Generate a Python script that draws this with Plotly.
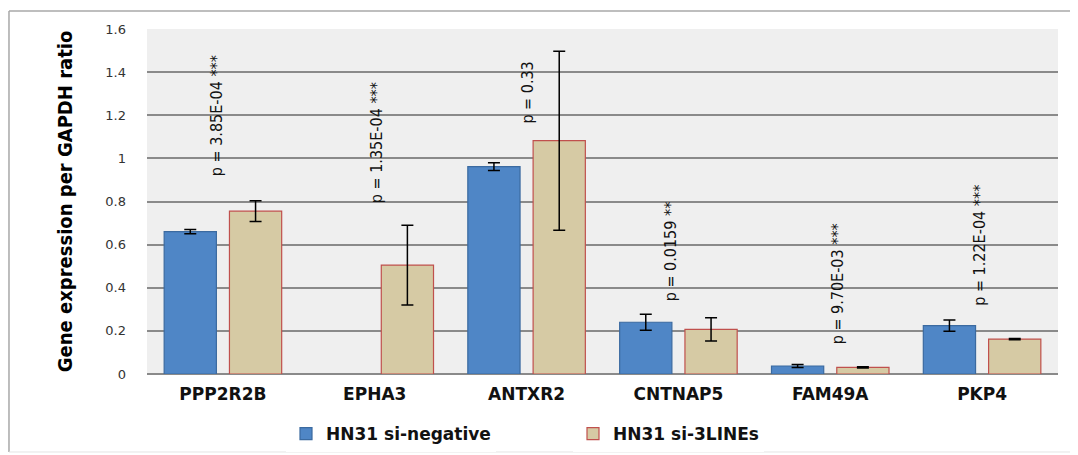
import plotly.graph_objects as go

genes = ["PPP2R2B", "EPHA3", "ANTXR2", "CNTNAP5", "FAM49A", "PKP4"]
neg_vals = [0.66, None, 0.962, 0.24, 0.037, 0.224]
neg_err = [0.01, None, 0.018, 0.037, 0.007, 0.026]
lines_vals = [0.755, 0.505, 1.082, 0.207, 0.031, 0.162]
lines_err = [0.048, 0.185, 0.415, 0.054, 0.003, 0.003]
p_labels = ["p = 3.85E-04 ***", "p = 1.35E-04 ***", "p = 0.33",
            "p = 0.0159 **", "p = 9.70E-03 ***", "p = 1.22E-04 ***"]
p_ypos = [1.20, 1.074, 1.303, 0.571, 0.417, 0.595]
yticks = [0, 0.2, 0.4, 0.6, 0.8, 1, 1.2, 1.4, 1.6]
ytick_text = ["0", "0.2", "0.4", "0.6", "0.8", "1", "1.2", "1.4", "1.6"]

# label nudges (style)
label_xshift = [-7, 2, 0, -8, 7, -2]

fig = go.Figure()
fig.add_trace(go.Bar(
    x=genes, y=neg_vals, name="HN31 si-negative", legend="legend",
    marker=dict(color="#4f86c6", line=dict(color="#3b6aa0", width=1.2)),
    error_y=dict(type="data", array=neg_err, color="black", thickness=1.5, width=6),
))
fig.add_trace(go.Bar(
    x=genes, y=lines_vals, name="HN31 si-3LINEs", legend="legend2",
    marker=dict(color="#d6caa4", line=dict(color="#c0504d", width=1.2)),
    error_y=dict(type="data", array=lines_err, color="black", thickness=1.5, width=6),
))

for g, t, yp, xs in zip(genes, p_labels, p_ypos, label_xshift):
    fig.add_annotation(x=g, y=yp, text=t, textangle=-90, showarrow=False,
                       xshift=xs,
                       font=dict(family="DejaVu Sans Condensed", size=16, color="#111"))

# outer border
border = dict(color="#a8a8a8", width=1.5)
fig.add_shape(type="line", xref="paper", yref="paper", x0=-0.1515, x1=1.05, y0=1.052, y1=1.052, line=border)
fig.add_shape(type="line", xref="paper", yref="paper", x0=-0.1515, x1=-0.1515, y0=1.052, y1=-0.226, line=border)
fig.add_shape(type="line", xref="paper", yref="paper", x0=-0.1515, x1=1.05, y0=-0.226, y1=-0.226,
              line=dict(color="#e4e4e4", width=1))

legend_font = dict(family="DejaVu Sans", size=17, color="#111", weight="bold")
fig.update_layout(
    width=1078, height=455,
    margin=dict(l=139, r=28, t=21, b=89),
    paper_bgcolor="white",
    plot_bgcolor="#efefef",
    barmode="group", bargap=0.14, bargroupgap=0.2,
    font=dict(family="DejaVu Sans", color="#222"),
    xaxis=dict(showgrid=False, ticks="", ticklabelstandoff=8, automargin=False,
               tickfont=dict(family="DejaVu Sans", size=17, color="#111", weight="bold"),
               showline=False),
    yaxis=dict(range=[0, 1.6], tickvals=yticks, ticktext=ytick_text, automargin=False,
               showgrid=True, gridcolor="#8a8a8a", gridwidth=1.5,
               zeroline=True, zerolinecolor="#8a8a8a", zerolinewidth=1.5,
               ticks="", ticklabelstandoff=20,
               tickfont=dict(family="DejaVu Sans", size=13, color="#333"),
               title=dict(text="Gene expression per GAPDH ratio", standoff=27,
                          font=dict(family="DejaVu Sans Condensed", size=20, color="#000", weight="bold"))),
    legend=dict(orientation="h", xref="container", yref="container",
                x=278 / 1078, xanchor="left", y=1 - 426 / 455, yanchor="middle",
                font=legend_font, itemwidth=30),
    legend2=dict(orientation="h", xref="container", yref="container",
                 x=565 / 1078, xanchor="left", y=1 - 426 / 455, yanchor="middle",
                 font=legend_font, itemwidth=30),
    showlegend=True,
)

fig.write_html("out.html")
